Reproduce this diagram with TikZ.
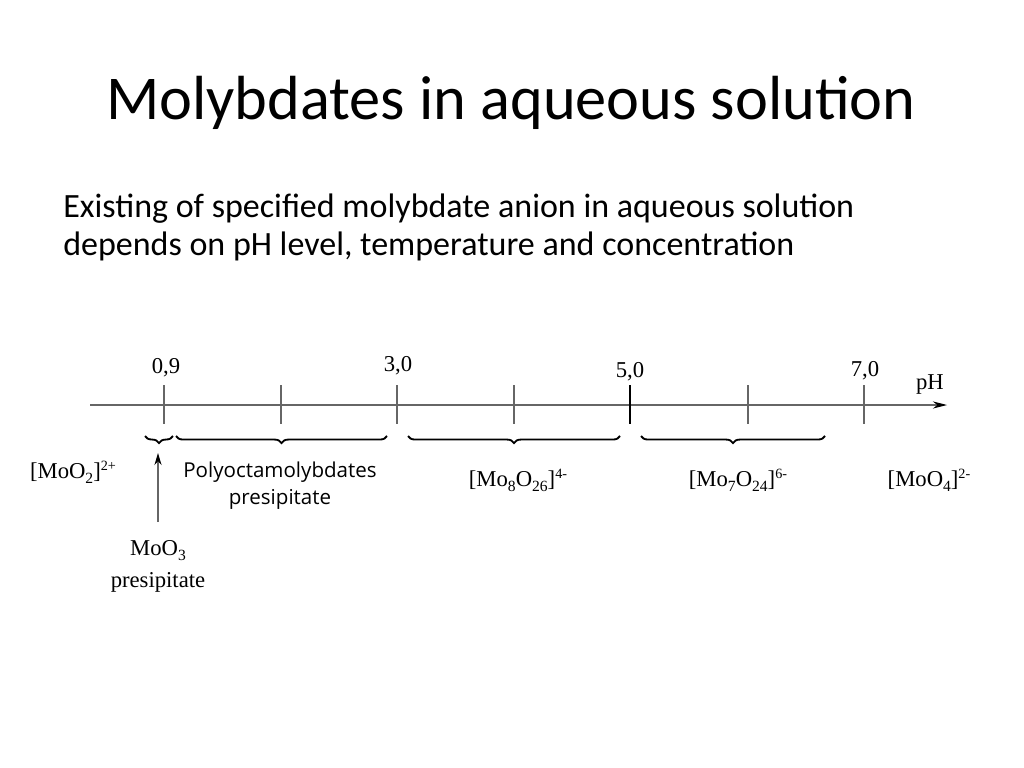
\documentclass[tikz,border=0pt]{standalone}
\usepackage{fontspec}
\setmainfont{Liberation Serif}
\newfontfamily\slidefont{Carlito}
\newfontfamily\notefont{Open Sans}
\usetikzlibrary{arrows.meta,decorations.pathreplacing}
\definecolor{axisgray}{gray}{0.4}
\newcommand{\ionsub}[1]{\raisebox{-4pt}{\fontsize{11}{12}\selectfont #1}}
\newcommand{\ionsup}[1]{\raisebox{5.5pt}{\fontsize{10}{12}\selectfont #1}}
\begin{document}
\begin{tikzpicture}[x=0.70576pt,y=-0.70576pt,
    tick/.style={axisgray, line width=0.8pt},
    ion/.style={anchor=base, inner sep=0pt, font=\fontsize{16}{19}\selectfont},
    brc/.style={decorate, decoration={brace, amplitude=5pt}, line width=1.3pt}]
  \useasboundingbox (0,0) rectangle (1024,768);

  % heading
  \node[anchor=base, inner sep=0pt] (title) at (511,120) {\slidefont\fontsize{44}{53}\selectfont Molybdates in aqueous solution};
  \node[anchor=base west, inner sep=0pt] (text1) at (63,217) {\slidefont\fontsize{24}{29}\selectfont Existing of specified molybdate anion in aqueous solution};
  \node[anchor=base west, inner sep=0pt] (text2) at (63,255) {\slidefont\fontsize{24}{29}\selectfont depends on pH level, temperature and concentration};

  % pH axis
  \draw[axisgray, line width=0.8pt, -{Stealth[black, length=10pt, width=5pt]}] (90,405) -- (947,405);
  \foreach \x in {164,281,397,514,748,864}
    \draw[tick] (\x,385) -- (\x,424);
  \draw[line width=1.4pt] (630,385) -- (630,424);

  \node[ion] (ph09) at (166,373) {0,9};
  \node[ion] (ph30) at (398,371) {3,0};
  \node[ion] (ph50) at (630,377) {5,0};
  \node[ion] (ph70) at (865,376) {7,0};
  \node[ion] (ph) at (930,389) {pH};

  % ranges
  \draw[brc] (173,436) -- (145,436);
  \draw[brc] (387,436) -- (176,436);
  \draw[brc] (620,436) -- (408,436);
  \draw[brc] (825,436) -- (641,436);

  \node[ion] (moo2) at (73,478) {[MoO\ionsub{2}]\ionsup{2+}};
  \node[anchor=north, align=center, inner sep=0pt, font=\notefont\fontsize{14.5}{19}\selectfont] (poly) at (280,462) {Polyoctamolybdates\\presipitate};
  \node[ion] (mo8) at (518,486) {[Mo\ionsub{8}O\ionsub{26}]\ionsup{4-}};
  \node[ion] (mo7) at (738,486) {[Mo\ionsub{7}O\ionsub{24}]\ionsup{6-}};
  \node[ion] (moo4) at (929,486) {[MoO\ionsub{4}]\ionsup{2-}};

  % MoO3 arrow
  \node[anchor=north, align=center, inner sep=0pt, font=\fontsize{16}{23}\selectfont] (moo3) at (158,540) {MoO\ionsub{3}\\presipitate};
  \coordinate (tipA) at (158,453);
  \draw[axisgray, line width=0.8pt, -{Stealth[black, length=8.5pt, width=5pt]}] ([yshift=12.7pt]moo3.north) -- (tipA);
\end{tikzpicture}
\end{document}
